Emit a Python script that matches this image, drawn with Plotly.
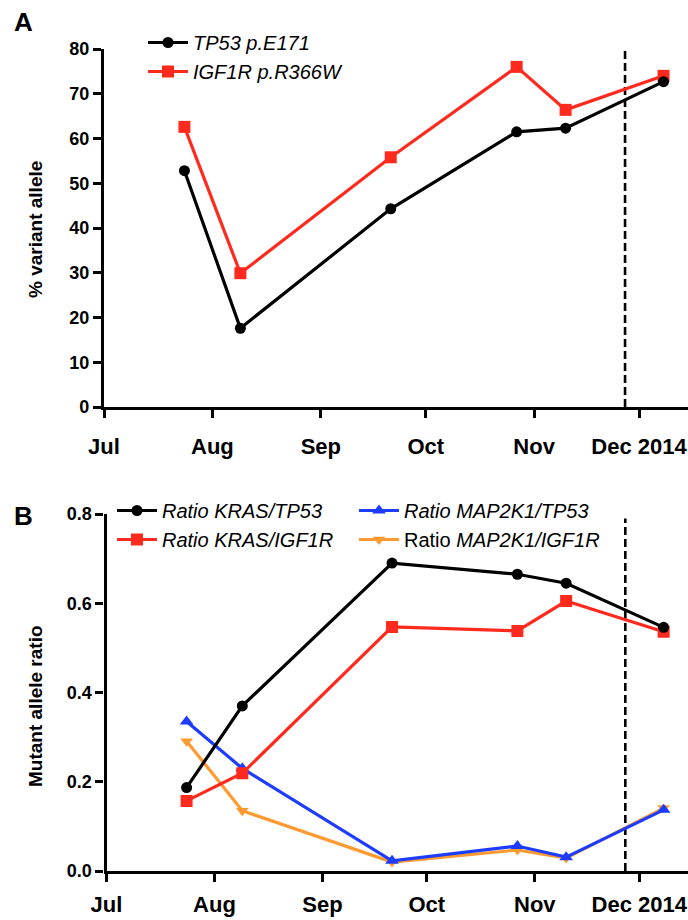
import plotly.graph_objects as go

# ---------------- data ----------------
dates = ["2014-07-24", "2014-08-09", "2014-09-21", "2014-10-27", "2014-11-10", "2014-12-08"]
tp53_vaf = [52.8, 17.6, 44.3, 61.5, 62.3, 72.7]
igf1r_vaf = [62.6, 29.9, 55.8, 76.0, 66.4, 74.0]

kras_tp53 = [0.187, 0.370, 0.690, 0.665, 0.645, 0.546]
kras_igf1r = [0.157, 0.219, 0.547, 0.538, 0.605, 0.536]
map2k1_tp53 = [0.335, 0.230, 0.023, 0.056, 0.031, 0.137]
map2k1_igf1r = [0.291, 0.135, 0.020, 0.047, 0.029, 0.141]

event_date = "2014-11-27"
month_ticks = ["2014-07-01", "2014-08-01", "2014-09-01", "2014-10-01", "2014-11-01", "2014-12-01"]
month_labels = ["Jul", "Aug", "Sep", "Oct", "Nov", "Dec 2014"]
x_range = ["2014-07-01", "2014-12-15"]

# ---------------- style ----------------
FONT = "Liberation Sans, Arial, sans-serif"
BLACK = "#000000"
RED = "#FF2A1E"
BLUE = "#1E3CFF"
ORANGE = "#FF9A30"
W, H = 688, 920

def px_y(p):
    return 1 - p / H

def px_x(p):
    return p / W

fig = go.Figure()

# ---- panel A ----
fig.add_trace(go.Scatter(x=dates, y=igf1r_vaf, name="<i>IGF1R p.R366W</i>", mode="lines+markers",
                         line=dict(color=RED, width=3.2), marker=dict(symbol="square", size=12, color=RED),
                         xaxis="x", yaxis="y", legend="legend", legendrank=2))
fig.add_trace(go.Scatter(x=dates, y=tp53_vaf, name="<i>TP53 p.E171</i>", mode="lines+markers",
                         line=dict(color=BLACK, width=3.2), marker=dict(symbol="circle", size=11, color=BLACK),
                         xaxis="x", yaxis="y", legend="legend", legendrank=1))

# ---- panel B ----
fig.add_trace(go.Scatter(x=dates, y=map2k1_igf1r, name="Ratio <i>MAP2K1/IGF1R</i>", mode="lines+markers",
                         line=dict(color=ORANGE, width=3.2), marker=dict(symbol="triangle-down", size=11, color=ORANGE),
                         xaxis="x2", yaxis="y2", legend="legend3", legendrank=2))
fig.add_trace(go.Scatter(x=dates, y=map2k1_tp53, name="<i>Ratio MAP2K1/TP53</i>", mode="lines+markers",
                         line=dict(color=BLUE, width=3.2), marker=dict(symbol="triangle-up", size=12, color=BLUE),
                         xaxis="x2", yaxis="y2", legend="legend3", legendrank=1))
fig.add_trace(go.Scatter(x=dates, y=kras_igf1r, name="<i>Ratio KRAS/IGF1R</i>", mode="lines+markers",
                         line=dict(color=RED, width=3.2), marker=dict(symbol="square", size=12, color=RED),
                         xaxis="x2", yaxis="y2", legend="legend2", legendrank=2))
fig.add_trace(go.Scatter(x=dates, y=kras_tp53, name="<i>Ratio KRAS/TP53</i>", mode="lines+markers",
                         line=dict(color=BLACK, width=3.2), marker=dict(symbol="circle", size=11, color=BLACK),
                         xaxis="x2", yaxis="y2", legend="legend2", legendrank=1))

# dashed event lines
fig.add_shape(type="line", xref="x", yref="y", x0=event_date, x1=event_date, y0=0, y1=81,
              line=dict(color=BLACK, width=2.6, dash="8px,4px"), layer="below")
fig.add_shape(type="line", xref="x2", yref="y2", x0=event_date, x1=event_date, y0=0, y1=0.79,
              line=dict(color=BLACK, width=2.6, dash="8px,4px"), layer="below")

axis_common = dict(showgrid=False, zeroline=False, showline=True, linecolor=BLACK, linewidth=3.2,
                   ticks="outside", ticklen=8, tickwidth=3.2, tickcolor=BLACK, automargin=False,
                   tickfont=dict(family=FONT, size=18, color=BLACK, weight="bold"))

xaxis_common = dict(axis_common, type="date", range=x_range, tickvals=month_ticks, ticktext=month_labels,
                    tickfont=dict(family=FONT, size=22, color=BLACK, weight="bold"))

legend_common = dict(font=dict(family=FONT, size=20, color=BLACK), bgcolor="rgba(0,0,0,0)",
                     xanchor="left", yanchor="top", tracegroupgap=0, itemclick=False, itemwidth=40)

fig.update_layout(
    width=W, height=H, margin=dict(l=0, r=0, t=0, b=0, pad=0), autosize=False,
    paper_bgcolor="white", plot_bgcolor="white",
    xaxis=dict(xaxis_common, domain=[px_x(104), 1.0], anchor="y", ticklabelstandoff=9),
    yaxis=dict(axis_common, domain=[px_y(407), px_y(49)], range=[0, 80], tickvals=[0, 10, 20, 30, 40, 50, 60, 70, 80],
               anchor="x"),
    xaxis2=dict(xaxis_common, domain=[px_x(106.5), 1.0], anchor="y2", ticklabelstandoff=3),
    yaxis2=dict(axis_common, domain=[px_y(871), px_y(514)], range=[0, 0.8], tickvals=[0, 0.2, 0.4, 0.6, 0.8],
                tickformat=".1f", anchor="x2"),
    legend=dict(legend_common, x=px_x(143), y=px_y(23)),
    legend2=dict(legend_common, x=px_x(112), y=px_y(491)),
    legend3=dict(legend_common, x=px_x(354), y=px_y(491)),
    showlegend=True,
    annotations=[
        dict(text="<b>A</b>", x=px_x(12), y=px_y(5), xref="paper", yref="paper", xanchor="left", yanchor="top",
             showarrow=False, font=dict(family=FONT, size=26, color=BLACK)),
        dict(text="<b>B</b>", x=px_x(12), y=px_y(499), xref="paper", yref="paper", xanchor="left", yanchor="top",
             showarrow=False, font=dict(family=FONT, size=26, color=BLACK)),
        dict(text="<b>% variant allele</b>", x=px_x(35), y=px_y(230), xref="paper", yref="paper",
             xanchor="center", yanchor="middle",
             textangle=-90, showarrow=False, font=dict(family=FONT, size=19, color=BLACK)),
        dict(text="<b>Mutant allele ratio</b>", x=px_x(35), y=px_y(706), xref="paper", yref="paper",
             xanchor="center", yanchor="middle",
             textangle=-90, showarrow=False, font=dict(family=FONT, size=19, color=BLACK)),
    ],
)

fig.write_html("out.html", config={"displayModeBar": False},
               post_script="document.body.style.margin='0px';document.body.style.padding='0px';")
